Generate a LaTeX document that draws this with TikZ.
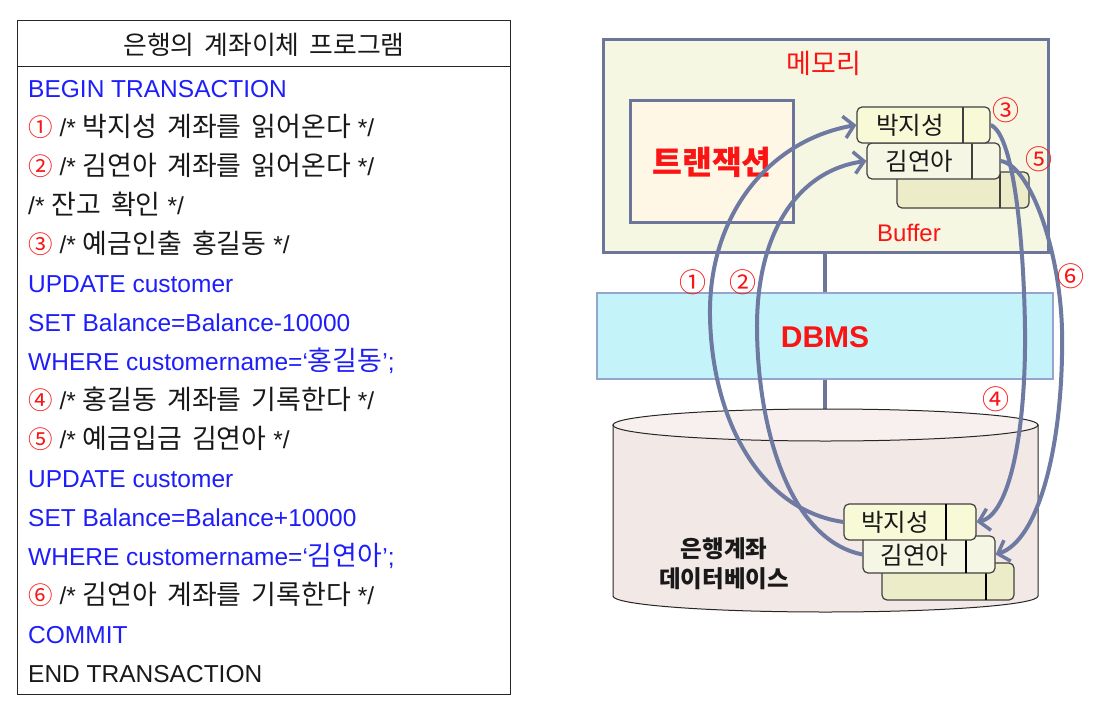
\documentclass[tikz,border=0pt]{standalone}
\usepackage{fontspec}
\setmainfont{Liberation Sans}
\newfontfamily\kr{Noto Sans CJK KR}
\newfontfamily\krc[Scale=1.1,WordSpace=1.7]{Noto Sans CJK KR}
\usetikzlibrary{arrows.meta}
\definecolor{codeblue}{RGB}{30,30,250}
\definecolor{cred}{RGB}{250,20,20}
\definecolor{txt}{RGB}{25,25,25}
\definecolor{edge}{RGB}{108,118,155}
\definecolor{arrc}{RGB}{110,122,162}
\definecolor{memfill}{RGB}{245,247,226}
\definecolor{trxfill}{RGB}{254,247,230}
\definecolor{dbmsfill}{RGB}{196,244,250}
\definecolor{dbmsedge}{RGB}{150,165,205}
\definecolor{cylfill}{RGB}{242,232,230}
\definecolor{cyltop}{RGB}{247,240,239}
\definecolor{recA}{RGB}{248,250,215}
\definecolor{recB}{RGB}{245,246,228}
\definecolor{recC}{RGB}{236,237,200}
\newcommand\kor[1]{{\krc #1}}
\newcommand\cn[1]{{\kr\color{cred}#1}}
\tikzset{
  codeline/.style={anchor=base west,inner sep=0pt,text=txt,font=\fontsize{24.5}{29}\selectfont},
  bluel/.style={codeline,text=codeblue},
  rec/.style={draw=black!75,line width=1.2pt,rounded corners=5pt,inner sep=0pt,minimum width=133pt,minimum height=36pt},
  rectext/.style={inner sep=0pt,text=txt,font=\kr\fontsize{24.5}{29}\selectfont},
  conn/.style={draw=edge,line width=4pt},
  arr/.style={draw=arrc,line width=4pt,-{Straight Barb[length=10pt,width=22pt,line width=3.5pt]}},
  lab/.style={inner sep=0pt,text=cred,font=\kr\fontsize{27}{30}\selectfont}
}
\begin{document}
\begin{tikzpicture}[x=1pt,y=-1pt]
\useasboundingbox (0,0) rectangle (1097,709);
% ---------- program box ----------
\node[draw=black!85,line width=1.2pt,minimum width=493pt,minimum height=46pt,anchor=north west,inner sep=0pt] (hdr) at (17,20) {};
\node[draw=black!85,line width=1.2pt,minimum width=493pt,minimum height=628pt,anchor=north west,inner sep=0pt] (body) at (17,66) {};
\node[anchor=base,inner sep=0pt,text=txt,font=\krc\fontsize{23.5}{28}\selectfont] (title) at (264,55) {은행의 계좌이체 프로그램};
\node[bluel] (l1) at (28,97) {BEGIN TRANSACTION};
\node[codeline] (l2) at (28,136) {\cn{①} /* \kor{박지성 계좌를 읽어온다} */};
\node[codeline] (l3) at (28,175) {\cn{②} /* \kor{김연아 계좌를 읽어온다} */};
\node[codeline] (l4) at (28,214) {/* \kor{잔고 확인} */};
\node[codeline] (l5) at (28,253) {\cn{③} /* \kor{예금인출 홍길동} */};
\node[bluel] (l6) at (28,292) {UPDATE customer};
\node[bluel] (l7) at (28,331) {SET Balance=Balance-10000};
\node[bluel] (l8) at (28,370) {WHERE customername=‘\kor{홍길동}’;};
\node[codeline] (l9) at (28,409) {\cn{④} /* \kor{홍길동 계좌를 기록한다} */};
\node[codeline] (l10) at (28,448) {\cn{⑤} /* \kor{예금입금 김연아} */};
\node[bluel] (l11) at (28,487) {UPDATE customer};
\node[bluel] (l12) at (28,526) {SET Balance=Balance+10000};
\node[bluel] (l13) at (28,565) {WHERE customername=‘\kor{김연아}’;};
\node[codeline] (l14) at (28,604) {\cn{⑥} /* \kor{김연아 계좌를 기록한다} */};
\node[bluel] (l15) at (28,643) {COMMIT};
\node[codeline] (l16) at (28,682) {END TRANSACTION};
% ---------- memory ----------
\node[draw=edge,fill=memfill,line width=3pt,minimum width=445pt,minimum height=212pt,inner sep=0pt] (mem) at (825.5,146) {};
\node[inner sep=0pt,text=cred,font=\kr\fontsize{27}{30}\selectfont] (memlab) at (824,63) {메모리};
\node[draw=edge,fill=trxfill,line width=3pt,minimum width=163pt,minimum height=122pt,inner sep=0pt] (trx) at (711.5,161) {};
\node[inner sep=0pt,text=cred,font=\kr\bfseries\fontsize{32.5}{36}\selectfont] (trxlab) at (712,162) {트랜잭션};
\node[inner sep=0pt,text=cred,font=\fontsize{24}{28}\selectfont] (buf) at (909,233) {Buffer};
% memory records
\node[rec,fill=recC,minimum width=132pt] (m3) at (963,190) {};
\draw[black!75,line width=1.2pt] (1000,172) -- (1000,208);
\node[rec,fill=recB] (mk) at (933.5,161) {};
\draw[black!75,line width=1.2pt] (972,143) -- (972,179);
\node[rectext] (mkt) at (919.5,161) {김연아};
\node[rec,fill=recA] (mp) at (923.5,125) {};
\draw[black!75,line width=1.2pt] (963,107) -- (963,143);
\node[rectext] (mpt) at (910,125) {박지성};
% ---------- DBMS ----------
\node[draw=dbmsedge,fill=dbmsfill,line width=1.5pt,minimum width=456pt,minimum height=86pt,inner sep=0pt] (dbms) at (825,336) {};
\node[inner sep=0pt,text=cred,font=\bfseries\fontsize{30}{34}\selectfont] (dbmslab) at (825,337) {DBMS};
\coordinate (dbtop) at (825,409);
\draw[conn] (mem.south -| dbms.north) -- (dbms.north);
\draw[conn] (dbms.south) -- (dbtop);
% ---------- cylinder ----------
\filldraw[fill=cylfill,draw=black!85,line width=1pt] (613,425) -- (613,596) .. controls (613,604.84) and (708.1,612) .. (825.5,612) .. controls (942.9,612) and (1038,604.84) .. (1038,596) -- (1038,425) -- cycle;
\filldraw[fill=cyltop,draw=black!85,line width=1pt] (825.5,425) ellipse [x radius=212.5, y radius=16];
\node[inner sep=0pt,text=txt,font=\kr\bfseries\fontsize{23.5}{27}\selectfont] (db1) at (724,549) {은행계좌};
\node[inner sep=0pt,text=txt,font=\kr\bfseries\fontsize{23.5}{27}\selectfont] (db2) at (724,579) {데이터베이스};
% DB records
\node[rec,fill=recC,minimum width=132pt,minimum height=37pt] (d3) at (948,581.5) {};
\draw[black,line width=2pt] (986,563) -- (986,600);
\node[rec,fill=recB,minimum width=132pt,minimum height=37pt] (dk) at (929,554.5) {};
\draw[black,line width=2pt] (966,536) -- (966,573);
\node[rectext] (dkt) at (914.5,555) {김연아};
\node[rec,fill=recA,minimum width=132pt] (dp) at (910,522) {};
\draw[black,line width=2pt] (946,504) -- (946,540);
\node[rectext] (dpt) at (895,522) {박지성};
% ---------- arrows ----------
\draw[arr] (dp.west) .. controls (760,510) and (712,420) .. (710,317) .. controls (708,214) and (770,140) .. (mp.west);
\draw[arr] (dk.west) .. controls (790,540) and (758,430) .. (757,330) .. controls (756,230) and (800,170) .. (mk.west);
\draw[arr] (mp.east) .. controls (1015,135) and (1024,250) .. (1025,330) .. controls (1026,430) and (1010,515) .. (dp.east);
\draw[arr] (mk.east) .. controls (1030,165) and (1060,250) .. (1062,330) .. controls (1064,440) and (1040,540) .. (dk.east);
% ---------- labels ----------
\node[lab] (n1) at (693,282) {①};
\node[lab] (n2) at (743,282) {②};
\node[lab] (n3) at (1006,110) {③};
\node[lab] (n4) at (996,399) {④};
\node[lab] (n5) at (1039,159) {⑤};
\node[lab] (n6) at (1071,276) {⑥};
\end{tikzpicture}
\end{document}
